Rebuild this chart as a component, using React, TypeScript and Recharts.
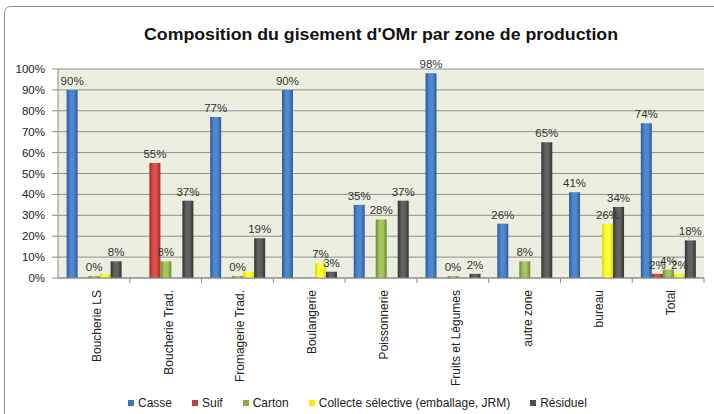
import { BarChart, Bar, XAxis, YAxis, CartesianGrid, LabelList } from 'recharts';

// Données (en %)
const categories = [
  'Boucherie LS',
  'Boucherie Trad.',
  'Fromagerie Trad.',
  'Boulangerie',
  'Poissonnerie',
  'Fruits et Légumes',
  'autre zone',
  'bureau',
  'Total',
];
const casse = [90, null, 77, 90, 35, 98, 26, 41, 74];
const suif = [null, 55, null, null, null, null, null, null, 2];
const carton = [0, 8, 0, null, 28, 0, 8, null, 4];
const collecte = [2, null, 3, 7, null, null, null, 26, 2];
const residuel = [8, 37, 19, 3, 37, 2, 65, 34, 18];
const yTicks = [0, 10, 20, 30, 40, 50, 60, 70, 80, 90, 100];

// étiquettes absentes sur l'original
const unlabeled = ['collecte|Boucherie LS', 'collecte|Fromagerie Trad.'];

const series = [
  { key: 'casse', name: 'Casse', edge: '#2b5c99', mid: '#4f88cf', legend: '#3f74b8' },
  { key: 'suif', name: 'Suif', edge: '#9e2a27', mid: '#dc4f4b', legend: '#c0403c' },
  { key: 'carton', name: 'Carton', edge: '#6b8a2a', mid: '#a6c663', legend: '#8aab44' },
  { key: 'collecte', name: 'Collecte sélective (emballage, JRM)', edge: '#d9d900', mid: '#ffff3a', legend: '#f2f200' },
  { key: 'residuel', name: 'Résiduel', edge: '#333333', mid: '#626262', legend: '#4d4d4d' },
];

const data = categories.map((name, i) => ({
  name,
  casse: casse[i],
  suif: suif[i],
  carton: carton[i],
  collecte: collecte[i],
  residuel: residuel[i],
}));

const W = 714;
const H = 414;
const PLOT_LEFT = 58;
const PLOT_RIGHT = 704;
const PLOT_TOP = 69;
const PLOT_BOTTOM = 278;
const STEP = (PLOT_RIGHT - PLOT_LEFT) / categories.length;
const FONT = '"Liberation Sans", Arial, sans-serif';

const XTick = (props: any) => {
  const { x, payload } = props;
  return (
    <g>
      <line x1={x + STEP / 2} x2={x + STEP / 2} y1={PLOT_BOTTOM} y2={PLOT_BOTTOM + 5} stroke="#8c8c8c" />
      <text
        x={0}
        y={0}
        transform={`translate(${x + 7},${PLOT_BOTTOM + 12}) rotate(-90)`}
        textAnchor="end"
        fontSize={12}
        fontFamily={FONT}
        fill="#222"
      >
        {payload.value}
      </text>
    </g>
  );
};

const makeLabel = (key: string) => (props: any) => {
  const { x, y, width, value } = props;
  if (value == null) return null;
  // catégorie retrouvée depuis la position de la barre
  const cat = categories[Math.floor((x + width / 2 - PLOT_LEFT) / STEP)];
  if (unlabeled.includes(`${key}|${cat}`)) return null;
  return (
    <text
      x={x + width / 2}
      y={y - 5}
      textAnchor="middle"
      fontSize={11.5}
      fontFamily={FONT}
      fill="#333"
    >
      {`${value}%`}
    </text>
  );
};

const App = () => {
  return (
    <div style={{ position: 'absolute', left: 0, top: 0, width: W, height: H, background: '#fff', overflow: 'hidden' }}>
      <BarChart
        width={W}
        height={H}
        data={data}
        margin={{ top: PLOT_TOP, right: W - PLOT_RIGHT, bottom: 0, left: 0 }}
        barCategoryGap="12%"
        barGap={0}
      >
        <defs>
          {series.map((s) => (
            <linearGradient key={s.key} id={`grad-${s.key}`} x1="0" y1="0" x2="1" y2="0">
              <stop offset="0%" stopColor={s.edge} />
              <stop offset="35%" stopColor={s.mid} />
              <stop offset="65%" stopColor={s.mid} />
              <stop offset="100%" stopColor={s.edge} />
            </linearGradient>
          ))}
        </defs>
        <CartesianGrid vertical={false} fill="#ecefdf" stroke="#8f8f8f" />
        <XAxis
          dataKey="name"
          height={H - PLOT_BOTTOM}
          interval={0}
          tick={<XTick />}
          tickLine={false}
          axisLine={{ stroke: '#8c8c8c' }}
        />
        <YAxis
          width={PLOT_LEFT}
          domain={[0, 100]}
          ticks={yTicks}
          interval={0}
          tickFormatter={(v) => `${v}%`}
          tickSize={6}
          tickMargin={7}
          axisLine={{ stroke: '#8c8c8c' }}
          tickLine={{ stroke: '#8c8c8c' }}
          tick={{ fontSize: 11.5, fontFamily: FONT, fill: '#222' }}
        />
        {series.map((s) => (
          <Bar
            key={s.key}
            dataKey={s.key}
            name={s.name}
            fill={`url(#grad-${s.key})`}
            minPointSize={(v: any) => (v === 0 ? 2 : 0)}
            isAnimationActive={false}
          >
            <LabelList dataKey={s.key} content={makeLabel(s.key)} />
          </Bar>
        ))}
      </BarChart>

      {/* cadre + titre */}
      <svg width={W} height={H} style={{ position: 'absolute', left: 0, top: 0, pointerEvents: 'none' }}>
        <rect x={4.5} y={6.5} width={W + 20} height={H + 20} rx={6} fill="none" stroke="#8c8c8c" />
        <text
          x={144}
          y={40}
          textLength={474}
          lengthAdjust="spacingAndGlyphs"
          fontSize={17}
          fontWeight="bold"
          fontFamily={FONT}
          fill="#111"
        >
          Composition du gisement d'OMr par zone de production
        </text>
      </svg>

      {/* légende */}
      <div
        style={{
          position: 'absolute',
          left: 128,
          top: 396,
          display: 'flex',
          alignItems: 'center',
          fontFamily: FONT,
          fontSize: 12,
          color: '#222',
          whiteSpace: 'nowrap',
        }}
      >
        {series.map((s) => (
          <div key={s.key} style={{ display: 'flex', alignItems: 'center', marginRight: 20 }}>
            <span style={{ width: 6, height: 6, background: s.legend, marginRight: 4, display: 'inline-block' }} />
            <span>{s.name}</span>
          </div>
        ))}
      </div>
    </div>
  );
};

export default App;
